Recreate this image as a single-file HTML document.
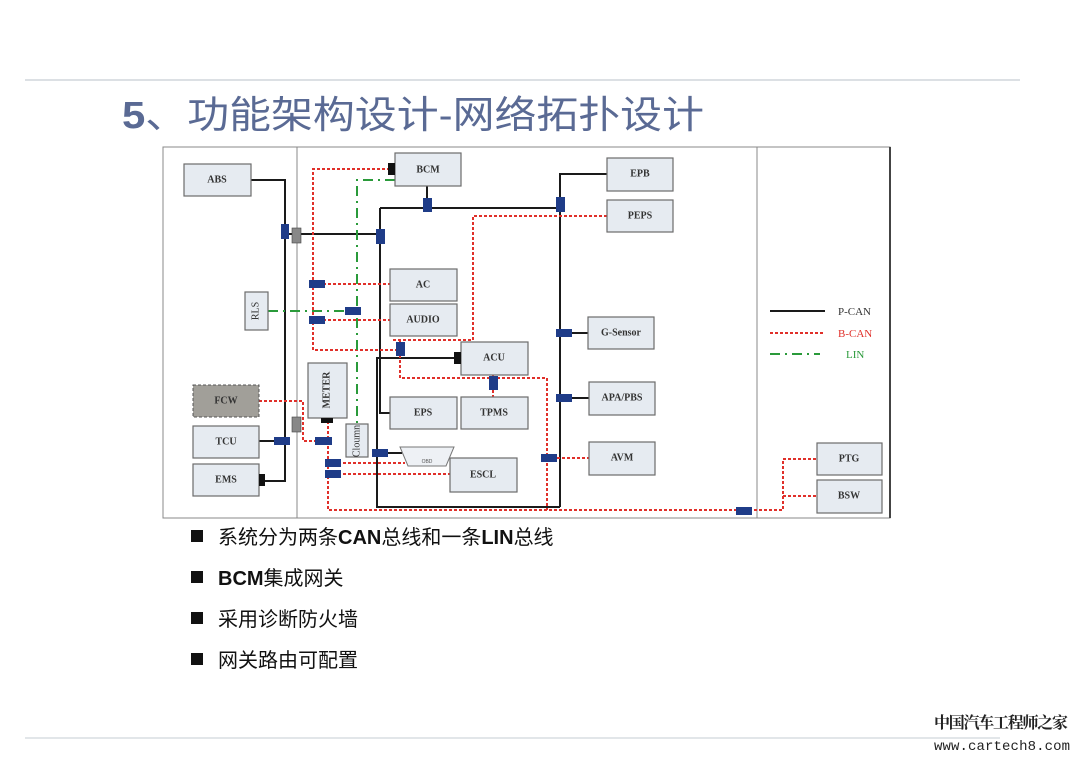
<!DOCTYPE html>
<html><head><meta charset="utf-8"><style>
html,body{margin:0;padding:0;background:#fff;}
svg{display:block;}
.b{fill:#e6ebf1;stroke:#6c6c6c;stroke-width:1.2;}
.t{font-family:"Liberation Serif",serif;font-size:10px;fill:#333;text-anchor:middle;dominant-baseline:middle;font-weight:bold;}
.p{stroke:#1a1a1a;stroke-width:2;fill:none;}
.r{stroke:#e0302a;stroke-width:2;stroke-dasharray:3 2;fill:none;}
.g{stroke:#2a9a3a;stroke-width:2;stroke-dasharray:10 5 2 5;fill:none;}
.c{fill:#1f3c88;}
.k{fill:#111;}
.bl{font-family:"Liberation Sans","Noto Sans CJK SC",sans-serif;font-size:20px;fill:#111;}
</style></head><body>
<svg width="1080" height="760" viewBox="0 0 1080 760" xmlns="http://www.w3.org/2000/svg">
<line x1="25" y1="80" x2="1020" y2="80" stroke="#d0d6dc" stroke-width="1.5"/>
<line x1="25" y1="738" x2="1000" y2="738" stroke="#d8dde2" stroke-width="1.5"/>
<text x="122" y="128" font-family="Liberation Sans,'Noto Sans CJK SC',sans-serif" font-size="38" fill="#5a6a94" textLength="582" lengthAdjust="spacingAndGlyphs"><tspan font-weight="bold">5</tspan>、功能架构设计-网络拓扑设计</text>

<!-- frame -->
<rect x="163" y="147" width="727" height="371" fill="#fff" stroke="#888" stroke-width="1"/>
<line x1="297" y1="147" x2="297" y2="518" stroke="#888"/>
<line x1="757" y1="147" x2="757" y2="518" stroke="#888"/>
<line x1="890" y1="147" x2="890" y2="518" stroke="#444" stroke-width="2"/>

<!-- P-CAN -->
<polyline class="p" points="251,180 285,180 285,481 259,481"/>
<line class="p" x1="285" y1="234" x2="381" y2="234"/>
<line class="p" x1="259" y1="441" x2="285" y2="441"/>
<line class="p" x1="427" y1="186" x2="427" y2="208"/>
<line class="p" x1="380" y1="208" x2="560" y2="208"/>
<polyline class="p" points="380,208 380,413 390,413"/>
<polyline class="p" points="461,358 377,358 377,507 560,507"/>
<polyline class="p" points="607,174 560,174 560,507"/>
<line class="p" x1="560" y1="333" x2="588" y2="333"/>
<line class="p" x1="560" y1="398" x2="589" y2="398" stroke-width="1.2"/>
<line class="p" x1="377" y1="453" x2="402" y2="453"/>

<!-- B-CAN -->
<polyline class="r" points="390,169 313,169 313,350 400,350"/>
<line class="r" x1="313" y1="284" x2="390" y2="284"/>
<line class="r" x1="313" y1="320" x2="390" y2="320"/>
<polyline class="r" points="607,216 473,216 473,340 392,340"/>
<polyline class="r" points="400,340 400,378 547,378 547,510"/>
<line class="r" x1="493" y1="375" x2="493" y2="397"/>
<line class="r" x1="547" y1="458" x2="589" y2="458"/>
<polyline class="r" points="259,401 303,401 303,441 325,441"/>
<polyline class="r" points="328,421 328,510 783,510 783,459 817,459"/>
<line class="r" x1="783" y1="496" x2="817" y2="496"/>
<line class="r" x1="328" y1="474" x2="450" y2="474"/>
<line class="r" x1="328" y1="463" x2="405" y2="463"/>

<!-- LIN -->
<polyline class="g" points="395,180 357,180 357,425"/>
<line class="g" x1="268" y1="311" x2="357" y2="311"/>

<!-- boxes -->
<rect class="b" x="184" y="164" width="67" height="32"/><text class="t" x="217" y="180">ABS</text>
<rect class="b" x="395" y="153" width="66" height="33"/><text class="t" x="428" y="170">BCM</text>
<rect class="b" x="390" y="269" width="67" height="32"/><text class="t" x="423" y="285">AC</text>
<rect class="b" x="390" y="304" width="67" height="32"/><text class="t" x="423" y="320">AUDIO</text>
<rect class="b" x="461" y="342" width="67" height="33"/><text class="t" x="494" y="358">ACU</text>
<rect class="b" x="390" y="397" width="67" height="32"/><text class="t" x="423" y="413">EPS</text>
<rect class="b" x="461" y="397" width="67" height="32"/><text class="t" x="494" y="413">TPMS</text>
<rect class="b" x="450" y="458" width="67" height="34"/><text class="t" x="483" y="475">ESCL</text>
<rect class="b" x="308" y="363" width="39" height="55"/><text class="t" transform="translate(327,390) rotate(-90)">METER</text>
<rect class="b" x="346" y="424" width="22" height="33"/><text class="t" style="font-weight:normal" transform="translate(357,441) rotate(-90)">Cloumn</text>
<rect class="b" x="245" y="292" width="23" height="38"/><text class="t" style="font-weight:normal" transform="translate(256,311) rotate(-90)">RLS</text>
<rect x="193" y="385" width="66" height="32" fill="#a19f99" stroke="#555" stroke-dasharray="3 2"/><text class="t" x="226" y="401">FCW</text>
<rect class="b" x="193" y="426" width="66" height="32"/><text class="t" x="226" y="442">TCU</text>
<rect class="b" x="193" y="464" width="66" height="32"/><text class="t" x="226" y="480">EMS</text>
<rect class="b" x="607" y="158" width="66" height="33"/><text class="t" x="640" y="174">EPB</text>
<rect class="b" x="607" y="200" width="66" height="32"/><text class="t" x="640" y="216">PEPS</text>
<rect class="b" x="588" y="317" width="66" height="32"/><text class="t" x="621" y="333">G-Sensor</text>
<rect class="b" x="589" y="382" width="66" height="33"/><text class="t" x="622" y="398">APA/PBS</text>
<rect class="b" x="589" y="442" width="66" height="33"/><text class="t" x="622" y="458">AVM</text>
<rect class="b" x="817" y="443" width="65" height="32"/><text class="t" x="849" y="459">PTG</text>
<rect class="b" x="817" y="480" width="65" height="33"/><text class="t" x="849" y="496">BSW</text>
<!-- OBD -->
<polygon points="400,447 454,447 446,466 408,466" fill="#eef1f5" stroke="#777"/>
<text x="427" y="463" font-size="5" text-anchor="middle" fill="#555" font-family="Liberation Sans,sans-serif">OBD</text>

<!-- connectors -->
<rect class="c" x="281" y="224" width="8" height="15"/>
<rect x="292" y="228" width="9" height="15" fill="#888" stroke="#444" stroke-width=".6"/>
<rect x="292" y="417" width="9" height="15" fill="#888" stroke="#444" stroke-width=".6"/>
<rect class="c" x="376" y="229" width="9" height="15"/>
<rect class="c" x="423" y="198" width="9" height="14"/>
<rect class="c" x="556" y="197" width="9" height="15"/>
<rect class="k" x="388" y="163" width="7" height="12"/>
<rect class="k" x="454" y="352" width="7" height="12"/>
<rect class="k" x="259" y="474" width="6" height="12"/>
<rect class="k" x="321" y="418" width="12" height="5"/>
<rect class="c" x="309" y="280" width="16" height="8"/>
<rect class="c" x="309" y="316" width="16" height="8"/>
<rect class="c" x="345" y="307" width="16" height="8"/>
<rect class="c" x="396" y="342" width="9" height="14"/>
<rect class="c" x="489" y="376" width="9" height="14"/>
<rect class="c" x="274" y="437" width="16" height="8"/>
<rect class="c" x="315" y="437" width="17" height="8"/>
<rect class="c" x="372" y="449" width="16" height="8"/>
<rect class="c" x="325" y="459" width="16" height="8"/>
<rect class="c" x="325" y="470" width="16" height="8"/>
<rect class="c" x="556" y="329" width="16" height="8"/>
<rect class="c" x="556" y="394" width="16" height="8"/>
<rect class="c" x="541" y="454" width="16" height="8"/>
<rect class="c" x="736" y="507" width="16" height="8"/>

<!-- legend -->
<line class="p" x1="770" y1="311" x2="825" y2="311" stroke-width="1.5"/>
<line class="r" x1="770" y1="333" x2="825" y2="333" stroke-width="1.5"/>
<line class="g" x1="770" y1="354" x2="820" y2="354" stroke-width="1.5"/>
<text x="838" y="315" font-family="Liberation Serif,serif" font-size="11" fill="#333">P-CAN</text>
<text x="838" y="337" font-family="Liberation Serif,serif" font-size="11" fill="#e0302a">B-CAN</text>
<text x="846" y="358" font-family="Liberation Serif,serif" font-size="11" fill="#2a9a3a">LIN</text>

<!-- bullets -->
<rect x="191" y="530" width="12" height="12" fill="#111"/>
<text class="bl" x="218" y="544">系统分为两条<tspan font-weight="bold">CAN</tspan>总线和一条<tspan font-weight="bold">LIN</tspan>总线</text>
<rect x="191" y="571" width="12" height="12" fill="#111"/>
<text class="bl" x="218" y="585"><tspan font-weight="bold">BCM</tspan>集成网关</text>
<rect x="191" y="612" width="12" height="12" fill="#111"/>
<text class="bl" x="218" y="626">采用诊断防火墙</text>
<rect x="191" y="653" width="12" height="12" fill="#111"/>
<text class="bl" x="218" y="667">网关路由可配置</text>

<!-- watermark -->
<text x="934" y="728" font-family="'Noto Serif CJK SC','WenQuanYi Zen Hei',serif" font-size="16" font-weight="bold" fill="#222" textLength="134">中国汽车工程师之家</text>
<text x="934" y="750" font-family="Liberation Mono,monospace" font-size="14" fill="#222" textLength="136">www.cartech8.com</text>
</svg>
</body></html>
